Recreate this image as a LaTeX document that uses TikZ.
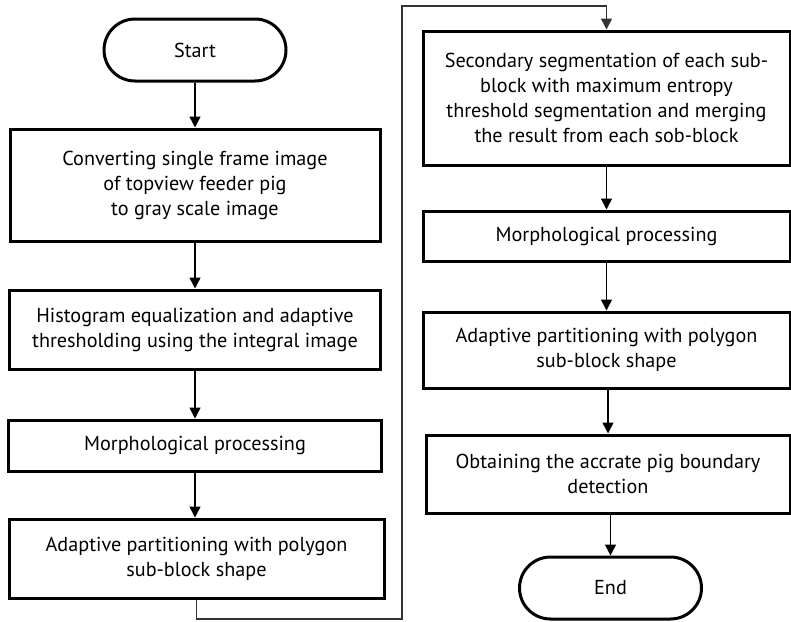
\documentclass[tikz,border=0pt]{standalone}
\usepackage{fontspec}
\setmainfont{PT Sans}
\usetikzlibrary{arrows.meta}
\begin{document}
\begin{tikzpicture}[x=0.5pt, y=-0.5pt, font=\fontsize{10.1}{12.5}\selectfont]
    \tikzset{
        procbox/.style={rectangle, draw, line width=1.5pt, align=center, inner sep=2pt},
        terminal/.style={rectangle, draw, line width=1.5pt, rounded corners=15.5pt,
            minimum width=91pt, minimum height=31pt},
        flow/.style={-{Triangle[length=5.5pt, width=5.5pt]}, line width=0.75pt},
        loopline/.style={line width=0.75pt, draw=black!80}
    }
    \useasboundingbox (0,0) rectangle (791,621);

    % left column
    \node[terminal] (start) at (195, 50) {Start};
    \node[procbox, minimum width=185pt, minimum height=56pt] (gray) at (195, 185)
        {Converting single frame image\\ of topview feeder pig\\ to gray scale image};
    \node[procbox, minimum width=185.5pt, minimum height=39.5pt] (histo) at (195, 329.5)
        {Histogram equalization and adaptive\\ thresholding using the integral image};
    \node[procbox, minimum width=186.5pt, minimum height=25.5pt] (morphA) at (195, 445.5)
        {Morphological processing};
    \node[procbox, minimum width=187.5pt, minimum height=39.5pt] (partA) at (196.5, 558.5)
        {Adaptive partitioning with polygon\\ sub-block shape};

    % right column
    \node[procbox, minimum width=183.5pt, minimum height=67pt] (segment) at (606.5, 98)
        {Secondary segmentation of each sub-\\ block with maximum entropy\\
         threshold segmentation and merging\\ the result from each sob-block};
    \node[procbox, minimum width=183.5pt, minimum height=25pt] (morphB) at (606.5, 236)
        {Morphological processing};
    \node[procbox, minimum width=183.5pt, minimum height=38pt] (partB) at (606.5, 350)
        {Adaptive partitioning with polygon\\ sub-block shape};
    \node[procbox, minimum width=182pt, minimum height=39pt] (boundary) at (608, 474)
        {Obtaining the accrate pig boundary\\ detection};
    \node[terminal] (stop) at (610.5, 588) {End};

    \coordinate (loopbl) at (402, 619);
    \coordinate (looptl) at (402, 6);

    \draw[flow] (start) -- (gray);
    \draw[flow] (gray) -- (histo);
    \draw[flow] (histo) -- (morphA);
    \draw[flow] (morphA.south) -- (morphA.south |- partA.north);
    \draw[loopline, flow] (partA.south) |- (loopbl) -- (looptl) -| (segment.north);
    \draw[flow] (segment) -- (morphB);
    \draw[flow] (morphB) -- (partB);
    \draw[flow] (boundary.north |- partB.south) -- (boundary.north);
    \draw[flow] (stop.north |- boundary.south) -- (stop);
\end{tikzpicture}
\end{document}
